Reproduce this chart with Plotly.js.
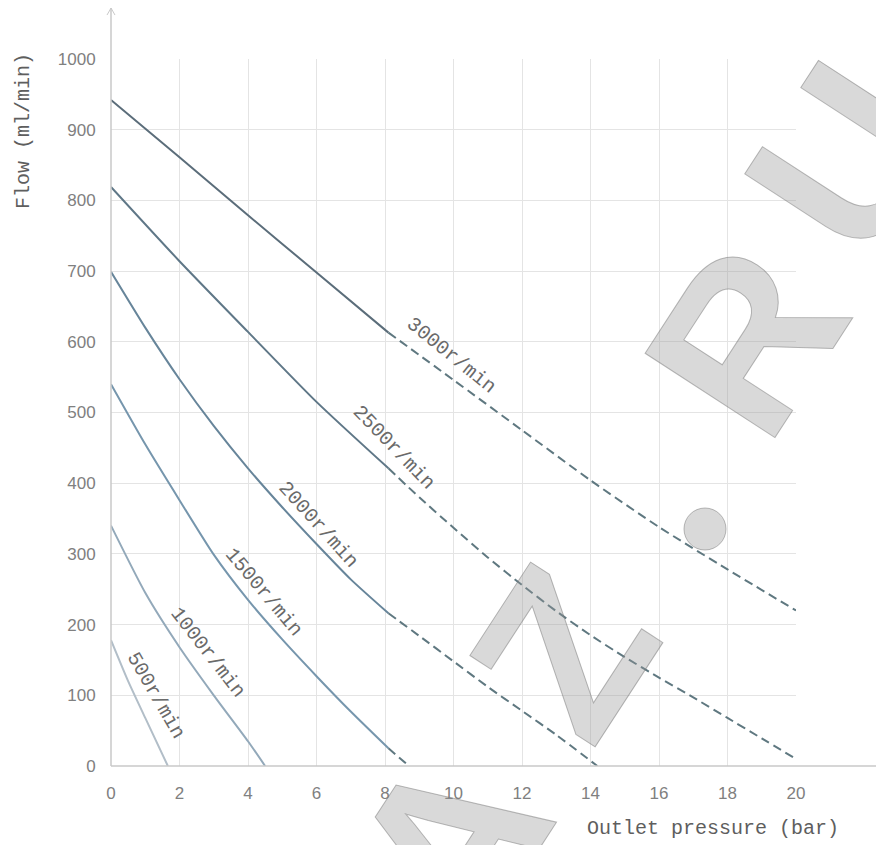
<!DOCTYPE html>
<html>
<head>
<meta charset="utf-8">
<script src="https://cdn.plot.ly/plotly-3.0.1.min.js"></script>
<style>
html,body{margin:0;padding:0;background:#fff;}
#chart{width:876px;height:845px;}
.annotation[data-index="8"] .annotation-text,
.annotation[data-index="9"] .annotation-text,
.annotation[data-index="10"] .annotation-text,
.annotation[data-index="11"] .annotation-text{stroke:rgba(120,120,120,0.5);stroke-width:1px;}
</style>
</head>
<body>
<div id="chart"></div>
<script>
// ---- data (outlet pressure in bar, flow in ml/min) ----
const speedLabels = ['3000r/min','2500r/min','2000r/min','1500r/min','1000r/min','500r/min'];

const p3000Solid = [0, 2, 4, 6, 8.1];
const f3000Solid = [942, 861, 779, 698, 613];
const p3000Dash  = [8.1, 10, 12, 14, 16, 18, 20];
const f3000Dash  = [613, 546, 475, 404, 338, 278, 220];

const p2500Solid = [0, 2, 4, 6, 8.1];
const f2500Solid = [819, 714, 614, 515, 421];
const p2500Dash  = [8.1, 9, 10, 11, 12, 13, 14, 15, 16, 17, 18, 19, 20];
const f2500Dash  = [421, 380, 337, 295, 256, 219, 185, 154, 125, 97, 68, 39, 10];

const p2000Solid = [0, 1, 2, 3, 4, 5, 6, 7, 8.1];
const f2000Solid = [699, 620, 547, 481, 421, 366, 314, 264, 216];
const p2000Dash  = [8.1, 9, 10, 11, 12, 13, 14.2];
const f2000Dash  = [216, 184, 148, 112, 78, 44, 0];

const p1500Solid = [0, 1, 2, 3, 4, 5, 6, 7, 8.1];
const f1500Solid = [540, 455, 376, 299, 235, 179, 127, 77, 25];
const p1500Dash  = [8.1, 8.7];
const f1500Dash  = [25, 0];

const p1000Solid = [0, 1, 2, 3, 4, 4.5];
const f1000Solid = [340, 245, 168, 100, 35, 0];

const p500Solid = [0, 0.5, 1, 1.66];
const f500Solid = [178, 120, 68, 0];

const xTicks = [0, 2, 4, 6, 8, 10, 12, 14, 16, 18, 20];
const yTicks = [0, 100, 200, 300, 400, 500, 600, 700, 800, 900, 1000];

// ---- styles ----
const solidColors = ['#5b6d7a', '#5f7787', '#67859a', '#7696ad', '#93a9ba', '#b2bec8'];
const dashColor = '#5f7880';

function solid(x, y, c) {
  return {x: x, y: y, type: 'scatter', mode: 'lines', hoverinfo: 'skip',
          line: {color: c, width: 2, shape: 'spline', smoothing: 0.6}};
}
function dashed(x, y) {
  return {x: x, y: y, type: 'scatter', mode: 'lines', hoverinfo: 'skip',
          line: {color: dashColor, width: 2, dash: '9px,5px', shape: 'spline', smoothing: 0.6}};
}

const traces = [
  solid(p3000Solid, f3000Solid, solidColors[0]), dashed(p3000Dash, f3000Dash),
  solid(p2500Solid, f2500Solid, solidColors[1]), dashed(p2500Dash, f2500Dash),
  solid(p2000Solid, f2000Solid, solidColors[2]), dashed(p2000Dash, f2000Dash),
  solid(p1500Solid, f1500Solid, solidColors[3]), dashed(p1500Dash, f1500Dash),
  solid(p1000Solid, f1000Solid, solidColors[4]),
  solid(p500Solid, f500Solid, solidColors[5])
];

// curve label placements (x in bar, y in ml/min) and angles
const labelPos = [
  {x: 9.93, y: 580, a: 39},
  {x: 8.26, y: 451, a: 46},
  {x: 6.04, y: 341, a: 48},
  {x: 4.47, y: 246, a: 50},
  {x: 2.83, y: 161, a: 52},
  {x: 1.31, y: 100, a: 60}
];
const labelFont = {family: 'Liberation Mono, monospace', size: 20, color: '#6a6a6a'};

const annotations = speedLabels.map((t, i) => ({
  text: t, x: labelPos[i].x, y: labelPos[i].y, xref: 'x', yref: 'y',
  textangle: labelPos[i].a, showarrow: false, font: labelFont,
  xanchor: 'center', yanchor: 'middle'
}));

const titleFont = {family: 'Liberation Mono, monospace', size: 20, color: '#5e5e5e'};
annotations.push({
  text: 'Flow (ml/min)', xref: 'paper', yref: 'paper', x: -0.1285, y: 0.898,
  textangle: -90, showarrow: false, font: titleFont, xanchor: 'center', yanchor: 'middle'
});
annotations.push({
  text: 'Outlet pressure (bar)', xref: 'paper', yref: 'paper', x: 0.879, y: -0.0877,
  showarrow: false, font: titleFont, xanchor: 'center', yanchor: 'middle'
});

// watermark letters
const wmFill = 'rgba(150,150,150,0.36)';
const wmFont = {family: 'Liberation Sans, Arial, sans-serif', size: 225, color: wmFill, weight: 700};
const wm = [
  {t: 'A', x: 0.4949, y: -0.1089},
  {t: 'Z', x: 0.6599, y: 0.1598},
  {t: 'R', x: 0.9270, y: 0.6040},
  {t: 'U', x: 1.073, y: 0.8586}
];
wm.forEach(w => annotations.push({
  text: w.t, xref: 'paper', yref: 'paper', x: w.x, y: w.y, textangle: -57,
  showarrow: false, font: wmFont, xanchor: 'center', yanchor: 'middle'
}));

const axisLineColor = '#c9c9c9';
const shapes = [
  {type: 'line', xref: 'paper', yref: 'paper', x0: 0, x1: 1.12, y0: 0, y1: 0,
   line: {color: axisLineColor, width: 1.5}},
  {type: 'line', xref: 'paper', yref: 'paper', x0: 0, x1: 0, y0: 0, y1: 1.0721,
   line: {color: axisLineColor, width: 1.5}},
  {type: 'line', xref: 'paper', yref: 'paper', x0: 0, x1: -0.0058, y0: 1.0721, y1: 1.0622,
   line: {color: axisLineColor, width: 1}},
  {type: 'line', xref: 'paper', yref: 'paper', x0: 0, x1: 0.0058, y0: 1.0721, y1: 1.0622,
   line: {color: axisLineColor, width: 1}},
  // round dot of the watermark
  {type: 'circle', xref: 'paper', yref: 'paper', x0: 0.8365, x1: 0.8978, y0: 0.3055, y1: 0.3649,
   fillcolor: wmFill, line: {color: 'rgba(120,120,120,0.5)', width: 1}}
];

const tickFont = {family: 'Liberation Sans, Arial, sans-serif', size: 17, color: '#808080'};

const layout = {
  width: 876, height: 845,
  margin: {l: 111, r: 80, t: 59, b: 79, pad: 0},
  paper_bgcolor: '#ffffff', plot_bgcolor: '#ffffff',
  showlegend: false,
  xaxis: {range: [0, 20], tickvals: xTicks, ticktext: xTicks.map(String),
          showgrid: true, gridcolor: '#e4e4e4', gridwidth: 1, zeroline: false, showline: false,
          ticks: 'outside', ticklen: 12, tickcolor: 'rgba(0,0,0,0)', tickfont: tickFont, fixedrange: true},
  yaxis: {range: [0, 1000], tickvals: yTicks, ticktext: yTicks.map(String),
          showgrid: true, gridcolor: '#e4e4e4', gridwidth: 1, zeroline: false, showline: false,
          ticks: 'outside', ticklen: 11, tickcolor: 'rgba(0,0,0,0)', tickfont: tickFont, fixedrange: true},
  shapes: shapes,
  annotations: annotations
};

Plotly.newPlot('chart', traces, layout, {staticPlot: true, displayModeBar: false});
</script>
</body>
</html>
